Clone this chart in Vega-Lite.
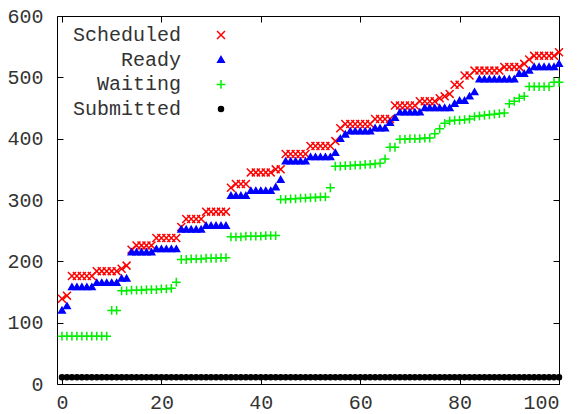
{
  "$schema": "https://vega.github.io/schema/vega-lite/v6.json",
  "width": 502,
  "height": 368,
  "autosize": "none",
  "padding": {"left": 57, "top": 16, "right": 25, "bottom": 30},
  "background": "white",
  "config": {
    "view": {"stroke": "black", "strokeWidth": 1},
    "font": "Liberation Mono",
    "axis": {
      "domain": false,
      "grid": false,
      "ticks": true,
      "tickColor": "black",
      "tickSize": -6,
      "tickWidth": 1,
      "labelFont": "Liberation Mono",
      "labelFontSize": 20,
      "labelColor": "#333333",
      "title": null
    }
  },
  "data": {
    "values": [
      {"x":0,"Scheduled":139,"Ready":120,"Waiting":78,"Submitted":11},
      {"x":1,"Scheduled":144,"Ready":127,"Waiting":78,"Submitted":11},
      {"x":2,"Scheduled":176,"Ready":158,"Waiting":78,"Submitted":11},
      {"x":3,"Scheduled":176,"Ready":158,"Waiting":78,"Submitted":11},
      {"x":4,"Scheduled":176,"Ready":158,"Waiting":78,"Submitted":11},
      {"x":5,"Scheduled":176,"Ready":158,"Waiting":78,"Submitted":11},
      {"x":6,"Scheduled":176,"Ready":158,"Waiting":78,"Submitted":11},
      {"x":7,"Scheduled":184,"Ready":165,"Waiting":78,"Submitted":11},
      {"x":8,"Scheduled":184,"Ready":165,"Waiting":78,"Submitted":11},
      {"x":9,"Scheduled":184,"Ready":165,"Waiting":78,"Submitted":11},
      {"x":10,"Scheduled":184,"Ready":165,"Waiting":120,"Submitted":11},
      {"x":11,"Scheduled":184,"Ready":165,"Waiting":120,"Submitted":11},
      {"x":12,"Scheduled":188,"Ready":172,"Waiting":152,"Submitted":11},
      {"x":13,"Scheduled":193,"Ready":172,"Waiting":152,"Submitted":11},
      {"x":14,"Scheduled":219,"Ready":215,"Waiting":153,"Submitted":11},
      {"x":15,"Scheduled":226,"Ready":215,"Waiting":153,"Submitted":11},
      {"x":16,"Scheduled":226,"Ready":215,"Waiting":153,"Submitted":11},
      {"x":17,"Scheduled":226,"Ready":215,"Waiting":154,"Submitted":11},
      {"x":18,"Scheduled":226,"Ready":215,"Waiting":154,"Submitted":11},
      {"x":19,"Scheduled":238,"Ready":220,"Waiting":154,"Submitted":11},
      {"x":20,"Scheduled":238,"Ready":220,"Waiting":155,"Submitted":11},
      {"x":21,"Scheduled":238,"Ready":220,"Waiting":155,"Submitted":11},
      {"x":22,"Scheduled":238,"Ready":220,"Waiting":156,"Submitted":11},
      {"x":23,"Scheduled":238,"Ready":220,"Waiting":166,"Submitted":11},
      {"x":24,"Scheduled":256,"Ready":252,"Waiting":203,"Submitted":11},
      {"x":25,"Scheduled":269,"Ready":252,"Waiting":203,"Submitted":11},
      {"x":26,"Scheduled":269,"Ready":252,"Waiting":204,"Submitted":11},
      {"x":27,"Scheduled":269,"Ready":252,"Waiting":204,"Submitted":11},
      {"x":28,"Scheduled":269,"Ready":252,"Waiting":204,"Submitted":11},
      {"x":29,"Scheduled":281,"Ready":258,"Waiting":205,"Submitted":11},
      {"x":30,"Scheduled":281,"Ready":258,"Waiting":205,"Submitted":11},
      {"x":31,"Scheduled":281,"Ready":258,"Waiting":205,"Submitted":11},
      {"x":32,"Scheduled":281,"Ready":258,"Waiting":206,"Submitted":11},
      {"x":33,"Scheduled":281,"Ready":258,"Waiting":206,"Submitted":11},
      {"x":34,"Scheduled":320,"Ready":307,"Waiting":240,"Submitted":11},
      {"x":35,"Scheduled":326,"Ready":307,"Waiting":240,"Submitted":11},
      {"x":36,"Scheduled":326,"Ready":307,"Waiting":240,"Submitted":11},
      {"x":37,"Scheduled":326,"Ready":307,"Waiting":241,"Submitted":11},
      {"x":38,"Scheduled":345,"Ready":315,"Waiting":241,"Submitted":11},
      {"x":39,"Scheduled":345,"Ready":315,"Waiting":241,"Submitted":11},
      {"x":40,"Scheduled":345,"Ready":315,"Waiting":241,"Submitted":11},
      {"x":41,"Scheduled":345,"Ready":315,"Waiting":242,"Submitted":11},
      {"x":42,"Scheduled":345,"Ready":315,"Waiting":242,"Submitted":11},
      {"x":43,"Scheduled":350,"Ready":321,"Waiting":242,"Submitted":11},
      {"x":44,"Scheduled":350,"Ready":333,"Waiting":301,"Submitted":11},
      {"x":45,"Scheduled":375,"Ready":363,"Waiting":301,"Submitted":11},
      {"x":46,"Scheduled":375,"Ready":363,"Waiting":302,"Submitted":11},
      {"x":47,"Scheduled":375,"Ready":363,"Waiting":302,"Submitted":11},
      {"x":48,"Scheduled":375,"Ready":363,"Waiting":303,"Submitted":11},
      {"x":49,"Scheduled":375,"Ready":363,"Waiting":303,"Submitted":11},
      {"x":50,"Scheduled":388,"Ready":370,"Waiting":304,"Submitted":11},
      {"x":51,"Scheduled":388,"Ready":370,"Waiting":304,"Submitted":11},
      {"x":52,"Scheduled":388,"Ready":370,"Waiting":305,"Submitted":11},
      {"x":53,"Scheduled":388,"Ready":370,"Waiting":305,"Submitted":11},
      {"x":54,"Scheduled":388,"Ready":370,"Waiting":320,"Submitted":11},
      {"x":55,"Scheduled":396,"Ready":377,"Waiting":355,"Submitted":11},
      {"x":56,"Scheduled":417,"Ready":400,"Waiting":355,"Submitted":11},
      {"x":57,"Scheduled":424,"Ready":407,"Waiting":356,"Submitted":11},
      {"x":58,"Scheduled":424,"Ready":412,"Waiting":356,"Submitted":11},
      {"x":59,"Scheduled":424,"Ready":412,"Waiting":357,"Submitted":11},
      {"x":60,"Scheduled":424,"Ready":412,"Waiting":357,"Submitted":11},
      {"x":61,"Scheduled":424,"Ready":412,"Waiting":358,"Submitted":11},
      {"x":62,"Scheduled":424,"Ready":412,"Waiting":358,"Submitted":11},
      {"x":63,"Scheduled":432,"Ready":417,"Waiting":359,"Submitted":11},
      {"x":64,"Scheduled":432,"Ready":417,"Waiting":360,"Submitted":11},
      {"x":65,"Scheduled":432,"Ready":417,"Waiting":367,"Submitted":11},
      {"x":66,"Scheduled":432,"Ready":426,"Waiting":386,"Submitted":11},
      {"x":67,"Scheduled":454,"Ready":434,"Waiting":386,"Submitted":11},
      {"x":68,"Scheduled":454,"Ready":443,"Waiting":399,"Submitted":11},
      {"x":69,"Scheduled":454,"Ready":443,"Waiting":399,"Submitted":11},
      {"x":70,"Scheduled":454,"Ready":443,"Waiting":400,"Submitted":11},
      {"x":71,"Scheduled":454,"Ready":443,"Waiting":400,"Submitted":11},
      {"x":72,"Scheduled":461,"Ready":443,"Waiting":400,"Submitted":11},
      {"x":73,"Scheduled":461,"Ready":450,"Waiting":401,"Submitted":11},
      {"x":74,"Scheduled":461,"Ready":450,"Waiting":401,"Submitted":11},
      {"x":75,"Scheduled":461,"Ready":450,"Waiting":408,"Submitted":11},
      {"x":76,"Scheduled":466,"Ready":450,"Waiting":416,"Submitted":11},
      {"x":77,"Scheduled":469,"Ready":450,"Waiting":425,"Submitted":11},
      {"x":78,"Scheduled":473,"Ready":450,"Waiting":429,"Submitted":11},
      {"x":79,"Scheduled":488,"Ready":457,"Waiting":430,"Submitted":11},
      {"x":80,"Scheduled":488,"Ready":462,"Waiting":430,"Submitted":11},
      {"x":81,"Scheduled":503,"Ready":462,"Waiting":431,"Submitted":11},
      {"x":82,"Scheduled":503,"Ready":469,"Waiting":432,"Submitted":11},
      {"x":83,"Scheduled":511,"Ready":476,"Waiting":436,"Submitted":11},
      {"x":84,"Scheduled":511,"Ready":497,"Waiting":437,"Submitted":11},
      {"x":85,"Scheduled":511,"Ready":497,"Waiting":438,"Submitted":11},
      {"x":86,"Scheduled":511,"Ready":497,"Waiting":439,"Submitted":11},
      {"x":87,"Scheduled":511,"Ready":497,"Waiting":440,"Submitted":11},
      {"x":88,"Scheduled":511,"Ready":497,"Waiting":441,"Submitted":11},
      {"x":89,"Scheduled":517,"Ready":497,"Waiting":442,"Submitted":11},
      {"x":90,"Scheduled":517,"Ready":497,"Waiting":457,"Submitted":11},
      {"x":91,"Scheduled":517,"Ready":497,"Waiting":461,"Submitted":11},
      {"x":92,"Scheduled":517,"Ready":506,"Waiting":466,"Submitted":11},
      {"x":93,"Scheduled":522,"Ready":506,"Waiting":469,"Submitted":11},
      {"x":94,"Scheduled":529,"Ready":511,"Waiting":485,"Submitted":11},
      {"x":95,"Scheduled":535,"Ready":517,"Waiting":485,"Submitted":11},
      {"x":96,"Scheduled":535,"Ready":517,"Waiting":485,"Submitted":11},
      {"x":97,"Scheduled":535,"Ready":517,"Waiting":485,"Submitted":11},
      {"x":98,"Scheduled":535,"Ready":517,"Waiting":485,"Submitted":11},
      {"x":99,"Scheduled":535,"Ready":517,"Waiting":492,"Submitted":11},
      {"x":100,"Scheduled":541,"Ready":522,"Waiting":492,"Submitted":11}
    ]
  },
  "transform": [
    {"fold": ["Scheduled", "Ready", "Waiting", "Submitted"], "as": ["series", "value"]}
  ],
  "layer": [
    {
      "mark": {"type": "point", "opacity": 1, "strokeWidth": 1.5, "size": 70},
      "encoding": {
        "x": {
          "field": "x", "type": "quantitative",
          "scale": {"domain": [-1, 100], "nice": false, "zero": false},
          "axis": {"orient": "bottom", "values": [0, 20, 40, 60, 80, 100], "labelBaseline": "alphabetic", "labelPadding": 30}
        },
        "y": {
          "field": "value", "type": "quantitative",
          "scale": {"domain": [0, 600], "nice": false},
          "axis": {"orient": "left", "values": [0, 100, 200, 300, 400, 500, 600], "labelPadding": 20}
        },
        "fill": {
          "field": "series", "type": "nominal",
          "scale": {"domain": ["Scheduled", "Ready", "Waiting", "Submitted"], "range": ["#ff0000", "#0000ff", "#00ee00", "#000000"]},
          "legend": {"orient": "none", "legendX": 154, "legendY": 9, "title": null, "labelAlign": "right", "labelOffset": -50, "labelFontSize": 20, "labelFont": "Liberation Mono", "labelColor": "#333333", "symbolSize": 70, "symbolStrokeWidth": 1.5, "rowPadding": 4.7, "padding": 0, "labelLimit": 0}
        },
        "stroke": {
          "field": "series", "type": "nominal",
          "scale": {"domain": ["Scheduled", "Ready", "Waiting", "Submitted"], "range": ["#ff0000", "#0000ff", "#00ee00", "#000000"]},
          "legend": {"orient": "none", "legendX": 154, "legendY": 9, "title": null, "labelAlign": "right", "labelOffset": -50, "labelFontSize": 20, "labelFont": "Liberation Mono", "labelColor": "#333333", "symbolSize": 70, "symbolStrokeWidth": 1.5, "rowPadding": 4.7, "padding": 0, "labelLimit": 0}
        },
        "shape": {
          "field": "series", "type": "nominal",
          "scale": {"domain": ["Scheduled", "Ready", "Waiting", "Submitted"], "range": ["M-0.95,-0.95L0.95,0.95M-0.95,0.95L0.95,-0.95", "M0,-0.75L0.78,0.6L-0.78,0.6Z", "M-1.05,0L1.05,0M0,-1.05L0,1.05", "M-0.6,0A0.6,0.6 0 1,0 0.6,0A0.6,0.6 0 1,0 -0.6,0Z"]},
          "legend": {"orient": "none", "legendX": 154, "legendY": 9, "title": null, "labelAlign": "right", "labelOffset": -50, "labelFontSize": 20, "labelFont": "Liberation Mono", "labelColor": "#333333", "symbolSize": 70, "symbolStrokeWidth": 1.5, "rowPadding": 4.7, "padding": 0, "labelLimit": 0}
        }
      }
    },
    {
      "mark": {"type": "point", "opacity": 0},
      "encoding": {
        "x": {
          "field": "x", "type": "quantitative",
          "axis": {"orient": "top", "values": [0, 20, 40, 60, 80, 100], "labels": false}
        },
        "y": {
          "field": "value", "type": "quantitative",
          "axis": {"orient": "right", "values": [0, 100, 200, 300, 400, 500, 600], "labels": false}
        }
      }
    }
  ],
  "resolve": {"axis": {"x": "independent", "y": "independent"}}
}
